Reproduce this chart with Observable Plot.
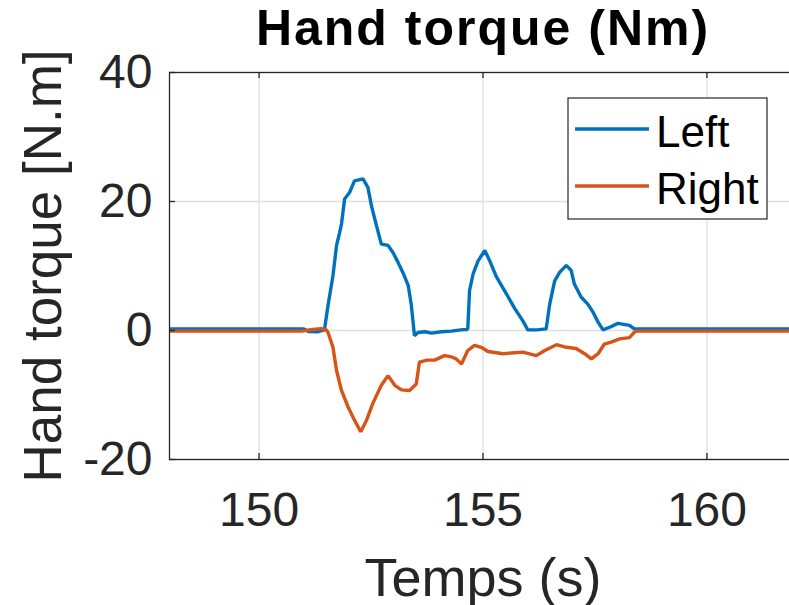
<!DOCTYPE html>
<html><head><meta charset="utf-8">
<script src="https://cdn.jsdelivr.net/npm/d3@7"></script>
<script src="https://cdn.jsdelivr.net/npm/@observablehq/plot@0.6"></script>
<style>html,body{margin:0;padding:0;overflow:hidden;background:#fff}</style>
</head><body><div id="chart"></div>
<script>
const title = "Hand torque (Nm)";
const xLabel = "Temps (s)";
const yLabel = "Hand torque [N.m]";
const seriesNames = ["Left", "Right"];
const seriesColors = ["#0072BD", "#D95319"];
const xTicks = [150, 155, 160];
const yTicks = [-20, 0, 20, 40];

const leftTime = [148.0, 151.0, 151.1, 151.3, 151.46, 151.54, 151.65, 151.73, 151.80, 151.84, 151.91, 152.02, 152.13, 152.32, 152.43, 152.51, 152.62, 152.73, 152.88, 152.99, 153.10, 153.21, 153.33, 153.40, 153.47, 153.55, 153.70, 153.85, 154.07, 154.30, 154.50, 154.63, 154.66, 154.70, 154.78, 154.89, 155.04, 155.15, 155.30, 155.52, 155.71, 155.89, 156.00, 156.20, 156.41, 156.49, 156.60, 156.71, 156.86, 156.97, 157.04, 157.19, 157.34, 157.46, 157.57, 157.68, 157.83, 158.01, 158.27, 158.38, 162.0];
const leftTorque = [0.25, 0.25, -0.15, -0.2, 0.1, 3.9, 8.5, 13.2, 15.2, 16.5, 20.4, 21.4, 23.2, 23.5, 22.2, 19.3, 16.3, 13.4, 13.2, 12.1, 10.6, 9.0, 7.0, 3.9, -0.8, -0.3, -0.2, -0.4, -0.2, -0.1, 0.1, 0.15, 0.3, 6.2, 8.8, 10.8, 12.4, 10.8, 8.3, 5.7, 3.4, 1.5, 0.1, 0.1, 0.25, 4.1, 7.7, 9.0, 10.1, 9.3, 7.2, 5.2, 4.1, 2.8, 1.3, 0.1, 0.5, 1.1, 0.8, 0.25, 0.25];

const rightTime = [148.0, 150.94, 151.2, 151.39, 151.50, 151.54, 151.65, 151.73, 151.84, 151.99, 152.13, 152.27, 152.40, 152.54, 152.73, 152.88, 153.03, 153.18, 153.36, 153.51, 153.58, 153.75, 153.92, 154.14, 154.30, 154.40, 154.52, 154.66, 154.81, 154.96, 155.11, 155.45, 155.89, 156.19, 156.38, 156.64, 156.86, 157.08, 157.27, 157.42, 157.57, 157.71, 157.86, 158.05, 158.27, 158.38, 158.42, 162.0];
const rightTorque = [-0.1, -0.1, 0.15, 0.3, 0.1, -0.3, -2.6, -6.2, -9.3, -11.9, -13.9, -15.7, -13.9, -11.3, -8.5, -7.0, -8.5, -9.2, -9.3, -8.3, -4.9, -4.6, -4.6, -3.9, -4.1, -4.4, -5.2, -3.1, -2.3, -2.6, -3.25, -3.6, -3.35, -3.9, -3.1, -2.2, -2.6, -2.8, -3.6, -4.4, -3.6, -2.1, -1.8, -1.3, -1.1, -0.26, -0.1, -0.1];

const W = 800, H = 605, ML = 169, MR = 4, MT = 72, MB = 146;
const frameW = W - ML - MR, frameH = H - MT - MB;
const axisColor = "#262626", gridColor = "#dfdfdf";
const tickLen = 6;
const fontFamily = "'Liberation Sans', Arial, Helvetica, sans-serif";

const rows = [];
leftTime.forEach((t, i) => rows.push({t, v: leftTorque[i], s: seriesNames[0]}));
rightTime.forEach((t, i) => rows.push({t, v: rightTorque[i], s: seriesNames[1]}));

const plot = Plot.plot({
  width: W, height: H,
  marginLeft: ML, marginRight: MR, marginTop: MT, marginBottom: MB,
  style: {fontFamily, background: "#fff", color: axisColor, maxWidth: "none", overflow: "visible"},
  x: {domain: [148, 162]},
  y: {domain: [-20, 40]},
  color: {domain: seriesNames, range: seriesColors},
  marks: [
    Plot.gridX(xTicks, {stroke: gridColor, strokeOpacity: 1, strokeWidth: 1.3}),
    Plot.gridY(yTicks, {stroke: gridColor, strokeOpacity: 1, strokeWidth: 1.3}),
    Plot.line(rows, {x: "t", y: "v", z: "s", stroke: "s", strokeWidth: 3.4, strokeLinejoin: "miter", strokeLinecap: "butt"}),
    Plot.frame({stroke: axisColor, strokeWidth: 1.3}),
    Plot.ruleX(xTicks, {x: d => d, insetTop: frameH - tickLen, stroke: axisColor, strokeWidth: 1.3}),
    Plot.ruleX(xTicks, {x: d => d, insetBottom: frameH - tickLen, stroke: axisColor, strokeWidth: 1.3}),
    Plot.ruleY(yTicks, {y: d => d, insetRight: frameW - tickLen, stroke: axisColor, strokeWidth: 1.3}),
    Plot.ruleY(yTicks, {y: d => d, insetLeft: frameW - tickLen, stroke: axisColor, strokeWidth: 1.3}),
    Plot.axisX(xTicks, {anchor: "bottom", tickSize: 0, tickPadding: 32, fontSize: 48, label: null, tickFormat: d => `${d}`, fill: axisColor}),
    Plot.axisY(yTicks, {anchor: "left", tickSize: 0, tickPadding: 17, fontSize: 48, label: null, tickFormat: d => `${d}`, fill: axisColor}),
    Plot.text([title], {text: d => d, frameAnchor: "top", textAnchor: "middle", lineAnchor: "bottom", dy: -28, fontSize: 50, fontWeight: "bold", fill: "#000"}),
    Plot.text([xLabel], {text: d => d, frameAnchor: "bottom", textAnchor: "middle", lineAnchor: "bottom", dy: 136, fontSize: 54, fill: axisColor}),
    Plot.text([yLabel], {text: d => d, frameAnchor: "left", textAnchor: "middle", lineAnchor: "bottom", rotate: -90, dx: -109, fontSize: 53, fill: axisColor})
  ]
});
plot.style.maxWidth = "none";
d3.select(plot).selectAll("text").filter(function(){ return this.textContent === title; }).attr("letter-spacing", "2px");

const svg = d3.select(plot);
const lg = svg.append("g");
lg.append("rect").attr("x", 568).attr("y", 98).attr("width", 199).attr("height", 121)
  .attr("fill", "#fff").attr("stroke", axisColor).attr("stroke-width", 1.2);
seriesNames.forEach((name, i) => {
  const cy = 129 + i * 57;
  lg.append("line").attr("x1", 575).attr("x2", 649).attr("y1", cy).attr("y2", cy)
    .attr("stroke", seriesColors[i]).attr("stroke-width", 3.4);
  lg.append("text").attr("x", 656).attr("y", cy + 18).text(name)
    .attr("text-anchor", "start")
    .attr("font-size", 44).attr("fill", "#000")
    .attr("font-family", fontFamily);
});
document.getElementById("chart").appendChild(plot);
</script>
</body></html>
